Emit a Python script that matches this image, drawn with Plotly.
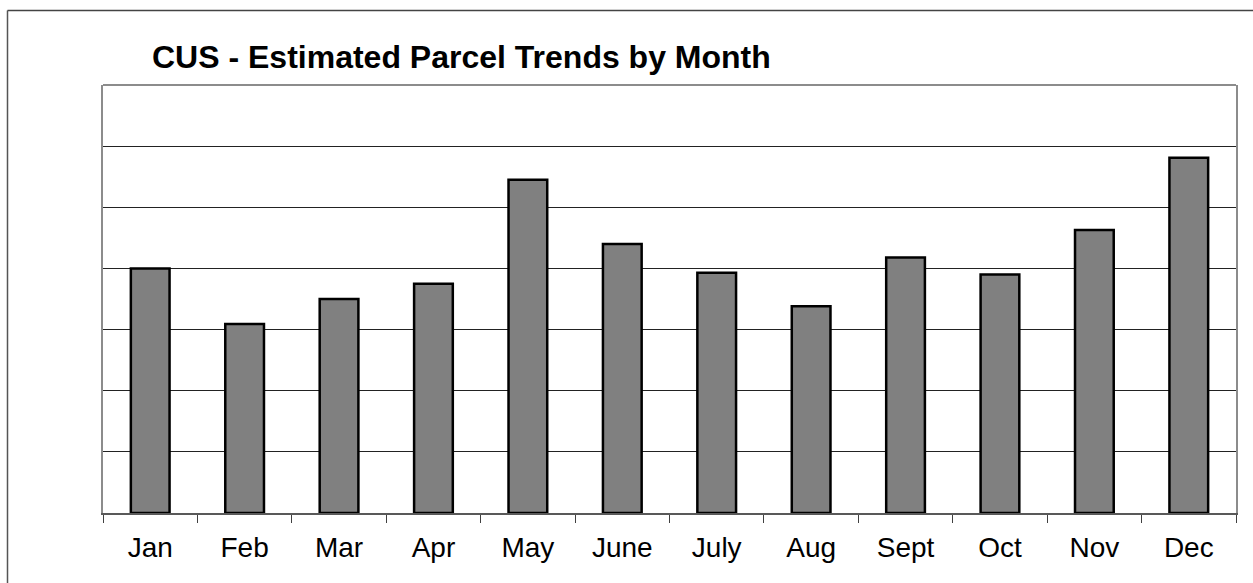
import plotly.graph_objects as go

months = ["Jan", "Feb", "Mar", "Apr", "May", "June", "July", "Aug", "Sept", "Oct", "Nov", "Dec"]
parcels = [4.0, 3.09, 3.50, 3.75, 5.45, 4.40, 3.93, 3.38, 4.18, 3.90, 4.63, 5.81]
y_max = 7

W, H = 1253, 583
L, R, T, B = 103, 1236, 85, 513

fig = go.Figure()
fig.add_trace(go.Bar(
    x=months, y=parcels,
    marker=dict(color="#808080", line=dict(color="#000000", width=2.5)),
    showlegend=False,
))

pw, ph = R - L, B - T
def px(x):
    return (x - L) / pw
def py(y):
    return (B - y) / ph

shapes = [
    # outer chart frame (left and top)
    dict(type="line", xref="paper", yref="paper", x0=px(7.5), x1=px(7.5), y0=py(10.5), y1=py(600),
         line=dict(color="#555555", width=1.5)),
    dict(type="line", xref="paper", yref="paper", x0=px(7.5), x1=px(1270), y0=py(10.5), y1=py(10.5),
         line=dict(color="#444444", width=1.5)),
    # plot area top border
    dict(type="line", xref="paper", yref="paper", x0=0, x1=1, y0=1, y1=1,
         line=dict(color="#8c8c8c", width=2)),
]

fig.update_layout(
    width=W, height=H,
    margin=dict(l=L, r=W - R, t=T, b=H - B, pad=0),
    paper_bgcolor="white", plot_bgcolor="white",
    font=dict(family="Liberation Sans, Arial, sans-serif", color="black"),
    title=dict(text="<b>CUS - Estimated Parcel Trends by Month</b>",
               font=dict(size=32, color="black"),
               xref="container", yref="container",
               x=152 / W, xanchor="left", y=1 - 57 / H, yanchor="middle"),
    bargap=0.59,
    shapes=shapes,
    xaxis=dict(
        showline=True, linecolor="#595959", linewidth=1.5,
        ticks="outside", ticklen=8, tickcolor="#404040", tickwidth=1.2,
        tickson="boundaries", showgrid=False,
        tickfont=dict(size=28, color="black"),
        ticklabelstandoff=9,
    ),
    yaxis=dict(
        range=[0, y_max], dtick=1, showticklabels=False,
        showgrid=True, gridcolor="#222222", gridwidth=1,
        showline=True, mirror=True, linecolor="#8c8c8c", linewidth=2,
        zeroline=False, ticks="",
    ),
)

fig.write_html("out.html", config={"displayModeBar": False},
               post_script="document.body.style.margin='0px';document.body.style.overflow='hidden';")
